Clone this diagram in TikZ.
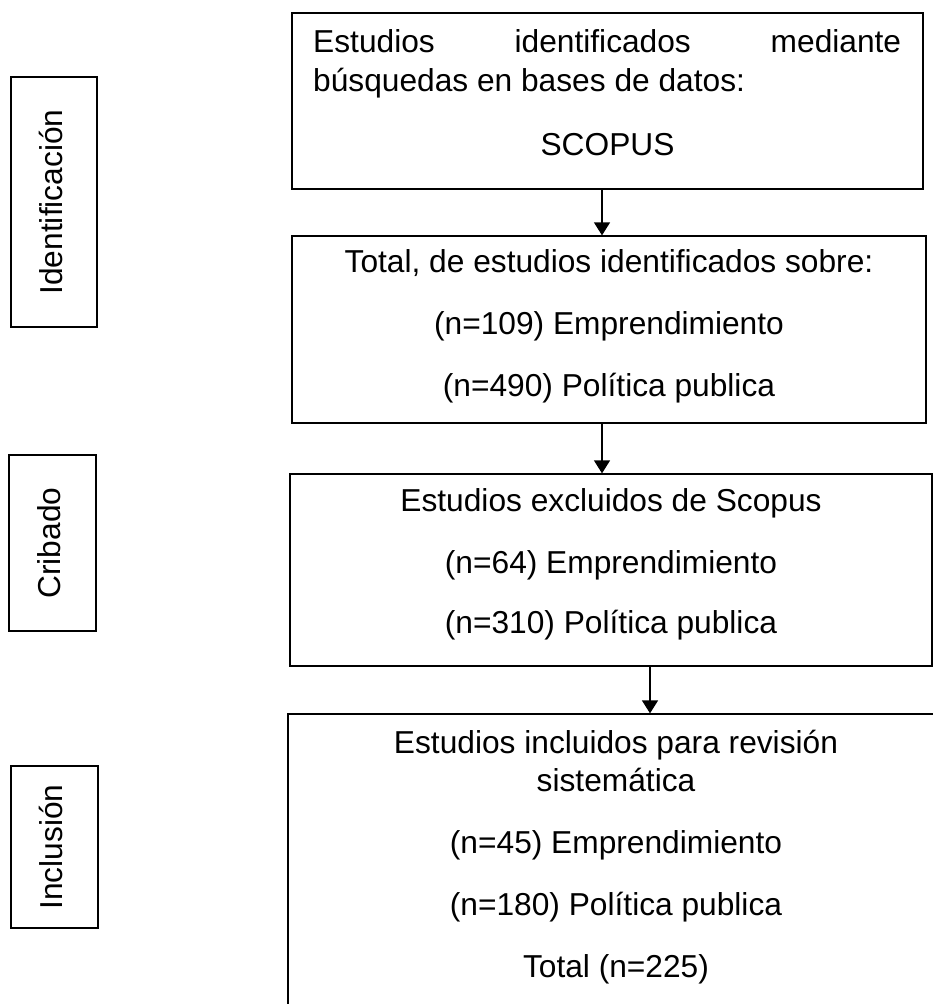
\documentclass[tikz,border=0pt]{standalone}
\usepackage{fontspec}
\setmainfont{Liberation Sans}
\usetikzlibrary{arrows.meta,positioning}
\tikzset{
    boxnode/.style={
        draw,
        rectangle,
        line width=1.3pt,
        inner sep=0pt
    },
    % etiquetas verticales de la izquierda
    sidebox/.style={
        boxnode,
        rotate=90,
        text height=23pt,
        text depth=7pt,
        font=\fontsize{31.7pt}{38pt}\selectfont
    },
    linetext/.style={
        anchor=base,
        inner sep=0pt,
        font=\fontsize{31.7pt}{38pt}\selectfont
    },
    downarrow/.style={
        line width=1.3pt,
        -{Triangle[length=13pt, width=16pt]}
    }
}
\begin{document}
\begin{tikzpicture}[x=1pt,y=-1pt]
   \useasboundingbox[fill=white] (0,0) rectangle (933,1004);

   \node[sidebox, minimum width=250pt, minimum height=86pt] (identif) at (54,202) {Identificación};
   \node[sidebox, minimum width=176pt, minimum height=87pt] (cribado) at (52.5,543) {Cribado};
   \node[sidebox, minimum width=162pt, minimum height=87pt] (inclus) at (54.5,847) {Inclusión};

   \node[boxnode, minimum width=631pt, minimum height=176pt] (busqueda) at (607.5,101) {};
   \node[boxnode, minimum width=634pt, minimum height=187pt] (total) at (609,329.5) {};
   \node[boxnode, minimum width=642pt, minimum height=192pt] (excl) at (611,570) {};
   \node[boxnode, minimum width=656pt, minimum height=306pt] (incl) at (616,867) {};

   \node[linetext, anchor=base west] (bus1) at (313,52) {\makebox[588pt]{Estudios\hfill identificados\hfill mediante}};
   \node[linetext, anchor=base west] (bus2) at (313,91) {búsquedas en bases de datos:};
   \node[linetext] (bus3) at (607.5,155) {SCOPUS};

   \node[linetext] (tot1) at (609,272) {Total, de estudios identificados sobre:};
   \node[linetext] (tot2) at (609,334) {(n=109) Emprendimiento};
   \node[linetext] (tot3) at (609,396) {(n=490) Política publica};

   \node[linetext] (exc1) at (611,511) {Estudios excluidos de Scopus};
   \node[linetext] (exc2) at (611,573) {(n=64) Emprendimiento};
   \node[linetext] (exc3) at (611,633) {(n=310) Política publica};

   \node[linetext] (inc1) at (616,753) {Estudios incluidos para revisión};
   \node[linetext] (inc2) at (616,791) {sistemática};
   \node[linetext] (inc3) at (616,853) {(n=45) Emprendimiento};
   \node[linetext] (inc4) at (616,915) {(n=180) Política publica};
   \node[linetext] (inc5) at (616,977) {Total (n=225)};

   \draw[downarrow] ([xshift=-5.5pt]busqueda.south) -- ([xshift=-5.5pt]busqueda.south |- total.north);
   \draw[downarrow] ([xshift=-7pt]total.south) -- ([xshift=-7pt]total.south |- excl.north);
   \draw[downarrow] ([xshift=39pt]excl.south) -- ([xshift=39pt]excl.south |- incl.north);
\end{tikzpicture}
\end{document}
